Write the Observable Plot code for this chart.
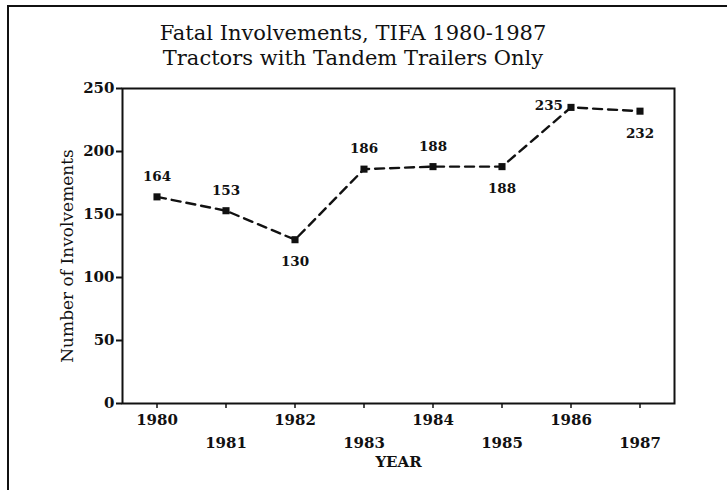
<!DOCTYPE html>
<html><head><meta charset="utf-8">
<script src="https://cdn.jsdelivr.net/npm/d3@7"></script>
<script src="https://cdn.jsdelivr.net/npm/@observablehq/plot@0.6"></script>
<style>
body{margin:0;background:#fff;}
#page{position:relative;width:727px;height:490px;overflow:hidden;background:#fff;font-family:"DejaVu Serif",serif;color:#111;}
#border{position:absolute;left:7px;top:5px;width:760px;height:520px;border-left:2px solid #111;border-top:2px solid #111;pointer-events:none;}
#title{height:75px;box-sizing:border-box;padding-top:21px;width:706px;text-align:center;font-size:21px;line-height:25px;}
#chart svg{display:block;}
</style>
</head><body>
<div id="page">
  <div id="title">Fatal Involvements, TIFA 1980-1987<br>Tractors with Tandem Trailers Only</div>
  <div id="chart"></div>
  <div id="border"></div>
</div>
<script>
const years = [1980, 1981, 1982, 1983, 1984, 1985, 1986, 1987];
const involvements = [164, 153, 130, 186, 188, 188, 235, 232];
const yTicks = [0, 50, 100, 150, 200, 250];
const xTickLabels = ["1980", "1981", "1982", "1983", "1984", "1985", "1986", "1987"];
const xTitle = "YEAR";
const yTitle = "Number of Involvements";

const data = years.map((y, i) => ({year: y, value: involvements[i], label: String(involvements[i])}));
const belowYears = new Set([1982, 1985, 1987]);
const leftYears = new Set([1986]);
const above = data.filter(d => !belowYears.has(d.year) && !leftYears.has(d.year));
const below = data.filter(d => belowYears.has(d.year));
const left = data.filter(d => leftYears.has(d.year));
const evenYears = years.filter((y, i) => i % 2 === 0);
const oddYears = years.filter((y, i) => i % 2 === 1);
const fmt = y => xTickLabels[years.indexOf(y)];

const ink = "#111";
const chart = Plot.plot({
  width: 727,
  height: 415,
  marginTop: 13,
  marginBottom: 87,
  marginLeft: 122,
  marginRight: 53,
  style: {fontFamily: "DejaVu Serif", fontSize: "15px", color: ink, background: "transparent"},
  x: {type: "linear", domain: [1979.5, 1987.5], axis: null},
  y: {domain: [0, 250], axis: null},
  marks: [
    Plot.frame({stroke: ink, strokeWidth: 2}),
    Plot.axisY(yTicks, {tickSize: 6, tickPadding: 2, fontWeight: "bold", fontSize: 15, label: null, stroke: ink, strokeWidth: 2}),
    Plot.axisX(years, {tickSize: 5, tickFormat: () => "", label: null, stroke: ink, strokeWidth: 1.5}),
    Plot.axisX(evenYears, {tickSize: 0, tickPadding: 11, tickFormat: fmt, fontWeight: "bold", fontSize: 15, label: null}),
    Plot.axisX(oddYears, {tickSize: 0, tickPadding: 34, tickFormat: fmt, fontWeight: "bold", fontSize: 15, label: null}),
    Plot.text([xTitle], {frameAnchor: "bottom", dy: 63, fontWeight: "bold", fontSize: 15, fill: ink}),
    Plot.text([yTitle], {frameAnchor: "left", dx: -55, dy: 10, rotate: -90, textAnchor: "middle", fontSize: 17, fill: ink}),
    Plot.line(data, {x: "year", y: "value", stroke: ink, strokeWidth: 2.4, strokeDasharray: "9,6"}),
    Plot.dot(data, {x: "year", y: "value", symbol: "square", r: 4, fill: ink, stroke: "none"}),
    Plot.text(above, {x: "year", y: "value", text: "label", dy: -20, fontWeight: "bold", fontSize: 13.5, fill: ink}),
    Plot.text(below, {x: "year", y: "value", text: "label", dy: 22, fontWeight: "bold", fontSize: 13.5, fill: ink}),
    Plot.text(left, {x: "year", y: "value", text: "label", dx: -8, dy: -2, textAnchor: "end", fontWeight: "bold", fontSize: 13.5, fill: ink})
  ]
});
document.getElementById("chart").appendChild(chart);
</script>
</body></html>
